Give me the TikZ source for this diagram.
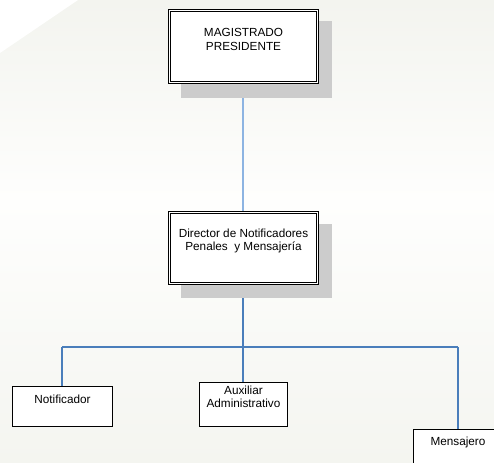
\documentclass[tikz,border=0pt]{standalone}
\usepackage{fontspec}
\setmainfont{Liberation Sans}
\definecolor{bgtop}{RGB}{243,244,239}
\definecolor{bgmid}{RGB}{254,254,253}
\definecolor{bgbot}{RGB}{244,245,240}
\definecolor{shadowgray}{RGB}{204,204,204}
\definecolor{linkblue}{RGB}{74,126,187}
\definecolor{lightlink}{RGB}{141,180,226}
\tikzset{
  chartfont/.style={font=\fontsize{11.8}{13.8}\selectfont, align=center, inner sep=0pt},
  headbox/.style={draw=black, double=white, double distance=1.1bp, line width=1bp, fill=white, rectangle, inner sep=0pt},
  staffbox/.style={draw=black, line width=1bp, fill=white, rectangle, inner sep=0pt},
  dropshadow/.style={fill=shadowgray, rectangle, inner sep=0pt},
  link/.style={draw=linkblue, line width=1.2bp}
}
\begin{document}
\begin{tikzpicture}[x=1bp, y=-1bp]
		\useasboundingbox (0,0) rectangle (494,463);
		\clip (0,0) rectangle (494,463);
		% Background
		\shade[top color=bgtop, bottom color=bgmid] (0,0) rectangle (494,200);
		\shade[top color=bgmid, bottom color=bgbot] (0,199.5) rectangle (494,463);
		\fill[white] (0,0) -- (78,0) -- (0,53) -- cycle;

		% Connectors
		\coordinate (top-bottom) at (243,84);
		\coordinate (dir-top) at (243,211);
		\coordinate (dir-bottom) at (243,285);
		\coordinate (split) at (243,347);
		\coordinate (left-turn) at (62,347);
		\coordinate (right-turn) at (458,347);
		\draw[draw=lightlink, line width=2bp] (top-bottom) -- (dir-top);
		\draw[link] (dir-bottom) -- (split);
		\draw[link] (left-turn) -- (right-turn);

		% Level 1: Magistrado
		\node[dropshadow, minimum width=151, minimum height=77] (magshadow) at (256.5,59.5) {};
		\node[headbox, minimum width=148, minimum height=72] (magistrado) at (243.5,46.5) {};
		\node[chartfont, anchor=north] (magtext) at (243.5,28) {MAGISTRADO\\PRESIDENTE};

		% Level 2: Director
		\node[dropshadow, minimum width=151, minimum height=74] (dirshadow) at (256.5,261) {};
		\node[headbox, minimum width=148, minimum height=71] (director) at (243.5,248) {};
		\node[chartfont, anchor=north] (dirtext) at (243.5,228.5) {Director de Notificadores\\Penales\ \ y Mensajería};

		% Level 3: Staff
		\node[staffbox, minimum width=101, minimum height=41] (notificador) at (62.5,406.5) {};
		\node[chartfont, anchor=north] at (62.5,394.5) {Notificador};

		\node[staffbox, minimum width=89, minimum height=45] (auxiliar) at (243.5,404.5) {};
		\node[chartfont, anchor=north] at (243.5,385.5) {Auxiliar\\Administrativo};

		\node[staffbox, minimum width=100, minimum height=50] (mensajero) at (463,454) {};
		\node[chartfont, anchor=north] at (458,436.5) {Mensajero};

		\draw[link] (left-turn) -- (notificador.north -| left-turn);
		\draw[link] (split) -- (auxiliar.north -| split);
		\draw[link] (right-turn) -- (mensajero.north -| right-turn);
	\end{tikzpicture}
\end{document}
